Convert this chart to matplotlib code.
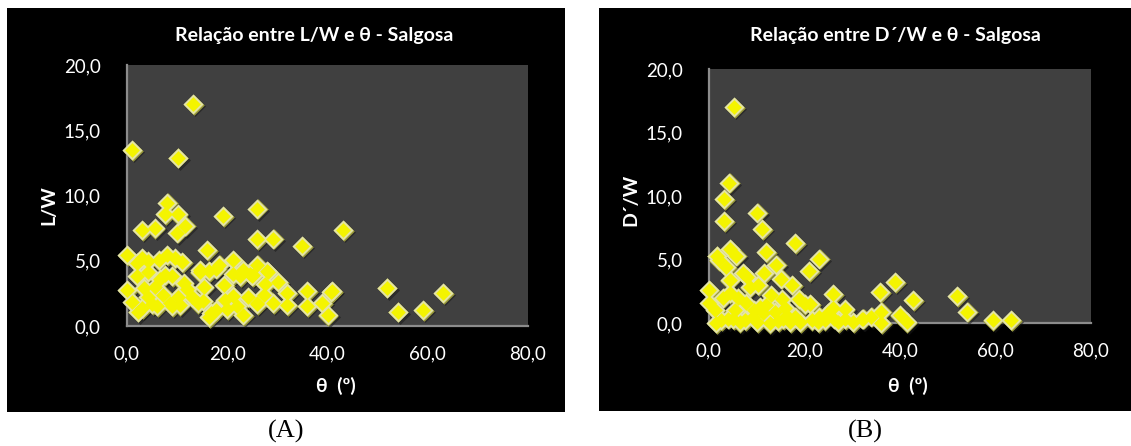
import matplotlib
matplotlib.use('Agg')
import matplotlib.pyplot as plt
from matplotlib.patches import Rectangle
from matplotlib.transforms import offset_copy

# theta (graus) e L/W - Salgosa
theta_lw = [13.2, 1.0, 10.1, 8.0, 7.6, 10.1, 11.6, 10.0, 3.0, 5.5, 19.1, 26.0, 26.0, 29.1, 35.0, 43.1, 16.0,
            0.0, 2.0, 3.0, 4.1, 6.3, 8.0, 9.5, 11.0, 21.1, 14.6, 16.4, 18.3, 17.8, 21.1, 23.1, 26.0, 24.9,
            28.1, 30.1, 32.0, 36.0, 40.9, 35.9, 38.9, 40.0, 23.1, 16.3,
            2.0, 4.1, 6.6, 9.0, 11.3, 7.5, 5.5, 3.3,
            0.0, 1.0, 2.1, 4.1, 7.2, 10.1, 6.0, 8.5, 3.0, 5.0, 9.0, 10.5, 12.0, 13.0,
            14.1, 15.3, 17.8, 19.6, 19.3, 21.1, 22.0, 24.1, 25.9, 27.3, 29.1, 27.5, 32.0, 14.5, 16.8, 20.0,
            22.5, 24.6, 15.2, 51.8, 54.0, 59.0, 63.0, 40.7, 25.2, 26.0, 27.9]
lw = [17.0, 13.5, 12.9, 9.45, 8.6, 8.6, 7.7, 7.15, 7.35, 7.5, 8.4, 9.0, 6.65, 6.7, 6.1, 7.35, 5.8,
      5.45, 4.8, 5.2, 5.0, 5.05, 5.45, 5.2, 4.9, 5.05, 4.3, 4.2, 4.7, 4.4, 4.0, 4.3, 4.7, 3.8,
      4.15, 3.35, 2.5, 2.7, 2.7, 1.5, 1.75, 0.85, 0.85, 0.7,
      3.8, 4.1, 3.6, 3.8, 3.3, 3.9, 3.0, 2.9,
      2.75, 1.85, 1.1, 2.25, 2.4, 2.25, 1.5, 1.8, 1.4, 1.7, 1.5, 1.6, 2.8, 2.2,
      1.75, 3.0, 1.2, 2.0, 3.15, 2.3, 1.5, 2.2, 1.8, 2.4, 1.75, 3.2, 1.6, 4.1, 1.0, 1.3,
      3.8, 4.0, 1.9, 2.95, 1.1, 1.2, 2.55, 2.6, 3.9, 1.65, 4.2]

# theta (graus) e D'/W - Salgosa
theta_dw = [5.3, 4.2, 3.1, 3.1, 10.0, 11.1, 18.1, 23.1, 21.0, 12.0, 14.1, 15.1, 17.4, 11.5,
            4.4, 2.0, 1.6, 5.7, 3.5,
            7.1, 4.3, 8.5, 10.3, 4.3, 0.1, 0.0, 1.2, 7.8, 10.6, 13.0, 15.2, 13.8, 16.5, 18.9, 21.2,
            19.0, 22.9, 26.0, 26.0, 28.4, 30.1, 32.2, 35.9, 38.9, 36.1, 39.9, 42.7, 1.5, 4.0, 6.4,
            9.2, 12.7, 14.5, 11.3, 17.0, 21.5, 24.2, 27.0, 41.4,
            52.0, 54.1, 59.4, 63.3, 36.1, 34.0, 32.1, 26.2, 6.0, 8.0, 9.5, 2.5, 5.0, 7.5, 10.0,
            15.5, 18.0, 20.0, 23.0, 25.0, 28.5, 3.0, 5.5, 12.0, 16.0]
dw = [17.0, 11.05, 9.75, 8.05, 8.7, 7.4, 6.3, 5.07, 4.07, 5.6, 4.6, 3.5, 2.97, 3.95,
      5.8, 4.95, 5.3, 5.3, 4.4,
      3.95, 3.35, 2.8, 3.0, 2.35, 2.6, 1.6, 1.0, 1.55, 1.25, 2.2, 1.9, 0.85, 0.45, 1.9, 1.5,
      0.1, 0.1, 2.3, 1.15, 1.1, 0.1, 0.35, 2.45, 3.25, 0.0, 0.6, 1.8, 0.0, 0.35, 0.1,
      0.5, 0.0, 0.15, 0.75, 0.1, 0.2, 0.2, 0.1, 0.1,
      2.1, 0.9, 0.2, 0.2, 0.9, 0.5, 0.35, 0.35, 2.0, 3.6, 1.0, 0.2, 0.3, 0.2, 0.1,
      0.3, 0.5, 1.5, 0.5, 0.8, 0.3, 2.0, 1.0, 1.4, 1.2]

x_ticks = [0, 20, 40, 60, 80]
y_ticks = [0, 5, 10, 15, 20]

FONT = ['Lato', 'DejaVu Sans']
W, H = 1131, 446

fig = plt.figure(figsize=(W / 100, H / 100), dpi=100)
fig.patch.set_facecolor('white')


def px_box(x0, y0, x1, y1):
    # caixa em pixels (origem no topo) -> fracao da figura
    return [x0 / W, (H - y1) / H, (x1 - x0) / W, (y1 - y0) / H]


def painel(frame, box, xs, ys, titulo, titulo_x, ylab, ylab_x, ylab_y, letra):
    l, b, w, h = px_box(*frame)
    fig.patches.append(Rectangle((l, b), w, h, transform=fig.transFigure,
                                 facecolor='black', edgecolor='none', zorder=-5))
    ax = fig.add_axes(px_box(*box))
    ax.set_zorder(2)
    ax.set_facecolor('#404040')
    ax.set_xlim(0, 80)
    ax.set_ylim(0, 20)
    ax.set_xticks(x_ticks)
    ax.set_yticks(y_ticks)
    ax.set_xticklabels([f'{v:.1f}'.replace('.', ',') for v in x_ticks])
    ax.set_yticklabels([f'{v:.1f}'.replace('.', ',') for v in y_ticks])
    ax.tick_params(length=0, colors='white', labelsize=13.5, pad=0)
    ax.tick_params(axis='x', pad=14)
    ax.tick_params(axis='y', pad=19)
    for lab in ax.get_xticklabels() + ax.get_yticklabels():
        lab.set_family(FONT)
    for s in ['top', 'right']:
        ax.spines[s].set_visible(False)
    for s in ['left', 'bottom']:
        ax.spines[s].set_color('#8c8c8c')
        ax.spines[s].set_linewidth(1.6)

    # marcadores em losango com efeito de bisel
    sombra = offset_copy(ax.transData, fig=fig, x=2.0, y=-2.0, units='dots')
    borda = offset_copy(ax.transData, fig=fig, x=0.8, y=-0.8, units='dots')
    ax.scatter(xs, ys, marker='D', s=115, color='#1a1a1a', alpha=0.55, linewidths=0,
               transform=sombra, clip_on=False, zorder=3)
    ax.scatter(xs, ys, marker='D', s=110, color='#9c9c3c', linewidths=0,
               transform=borda, clip_on=False, zorder=4)
    ax.scatter(xs, ys, marker='D', s=106, color='#e4e4a4', linewidths=0,
               clip_on=False, zorder=4)
    ax.scatter(xs, ys, marker='D', s=56, color='#f4f400', linewidths=0,
               clip_on=False, zorder=4)

    cx = (box[0] + box[2]) / 2
    fig.text(titulo_x / W, 1 - 36 / H, titulo, color='white', fontsize=14, fontweight='bold',
             family=FONT, ha='center', va='center')
    fig.text(ylab_x / W, 1 - ylab_y / H, ylab, color='white', fontsize=14, fontweight='bold',
             family=FONT, ha='center', va='center', rotation=90)
    fig.text((cx + 8) / W, 1 - 386 / H, 'θ  (º)', color='white', fontsize=14, fontweight='bold',
             family=FONT, ha='center', va='center')
    fig.text((frame[0] + frame[2]) / 2 / W, 1 - 431 / H, letra, color='black', fontsize=19,
             family='Liberation Serif', ha='center', va='center')
    return ax


painel((7, 8, 565, 412), (127, 65, 528, 326), theta_lw, lw,
       'Relação entre L/W e θ - Salgosa', 314, 'L/W', 49, 205, '(A)')
painel((599, 8, 1131, 411), (709, 69, 1091, 323), theta_dw, dw,
       'Relação entre D´/W e θ - Salgosa', 895, 'D´/W', 631, 200, '(B)')

fig.savefig('out.png', dpi=100, facecolor='white')
